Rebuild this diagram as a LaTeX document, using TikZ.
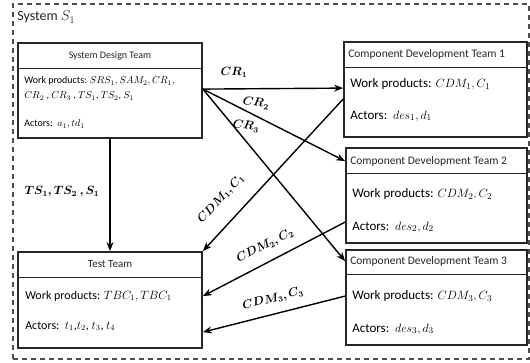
\documentclass[tikz,border=0pt]{standalone}
\usepackage{fontspec}
\setmainfont{Carlito}
\usepackage{bm}
\usetikzlibrary{arrows.meta,calc}

\definecolor{ink}{HTML}{262626}
\definecolor{frameink}{HTML}{4d4d4d}

\tikzset{
  frame/.style={draw=frameink, line width=1.8pt, dash pattern=on 5pt off 4pt, rectangle, inner sep=0pt},
  teambox/.style={draw=ink, line width=1.8pt, rectangle, inner sep=0pt, fill=white},
  divider/.style={draw=ink, line width=1.2pt},
  boxtitle/.style={text=ink, inner sep=0pt, font=\fontsize{10}{12}\selectfont},
  boxtext/.style={text=black, inner sep=0pt, anchor=west},
  flow/.style={draw=black, line width=1.4pt, -{Stealth[length=9pt,width=7pt]}},
  flowlabel/.style={text=black, inner sep=0pt, font=\fontsize{12}{14}\selectfont},
}

\begin{document}
\begin{tikzpicture}[x=1pt,y=-1pt]
\useasboundingbox (0,0) rectangle (530,362);
\fill[white] (0,0) rectangle (530,362);

% system boundary
\node[frame, minimum width=516pt, minimum height=355pt] (sys) at (271,181.5) {};
\node[anchor=west, inner sep=0pt, text=ink, font=\fontsize{14}{16}\selectfont]
  (systitle) at ($(sys.north west)+(5,14)$) {System $S_1$};

% team boxes
\node[teambox, minimum width=184pt, minimum height=95pt] (sdt) at (110,90.5) {};
\node[teambox, minimum width=183pt, minimum height=95pt] (cdt1) at (435.5,89.5) {};
\node[teambox, minimum width=181pt, minimum height=95pt] (cdt2) at (436.5,195.5) {};
\node[teambox, minimum width=181pt, minimum height=95pt] (cdt3) at (436.5,297.5) {};
\node[teambox, minimum width=184pt, minimum height=96pt] (test) at (110,300) {};

% header dividers
\draw[divider] ($(sdt.north west)+(0,26)$) -- ($(sdt.north east)+(0,26)$);
\draw[divider] ($(cdt1.north west)+(0,26)$) -- ($(cdt1.north east)+(0,26)$);
\draw[divider] ($(cdt2.north west)+(0,26)$) -- ($(cdt2.north east)+(0,26)$);
\draw[divider] ($(cdt3.north west)+(0,25)$) -- ($(cdt3.north east)+(0,25)$);
\draw[divider] ($(test.north west)+(0,26)$) -- ($(test.north east)+(0,26)$);

% System Design Team
\node[boxtitle] (sdt-t) at ($(sdt.north)+(0,14)$) {System Design Team};
\node[boxtext, font=\fontsize{10}{12}\selectfont] (sdt-w1) at ($(sdt.north west)+(7,39)$)
  {Work products: $SRS_1, SAM_2, CR_1,$};
\node[boxtext, font=\fontsize{10}{12}\selectfont] (sdt-w2) at ($(sdt.north west)+(7,54)$)
  {$CR_2$ , $CR_3$ , $TS_1$, $TS_2$, $S_1$};
\node[boxtext, font=\fontsize{10}{12}\selectfont] (sdt-a) at ($(sdt.north west)+(7,82)$)
  {Actors:\ \ $a_1, td_1$};

% Component Development Teams
\node[boxtitle, anchor=west, font=\fontsize{11.5}{13}\selectfont] (cdt1-t) at ($(cdt1.north west)+(5,13)$) {Component Development Team 1};
\node[boxtext, font=\fontsize{13}{15}\selectfont] (cdt1-w) at ($(cdt1.north west)+(7,43)$) {Work products: $CDM_1, C_1$};
\node[boxtext, font=\fontsize{13}{15}\selectfont] (cdt1-a) at ($(cdt1.north west)+(7,75)$) {Actors:\ \ $des_1, d_1$};

\node[boxtitle, anchor=west, font=\fontsize{11.5}{13}\selectfont] (cdt2-t) at ($(cdt2.north west)+(5,14)$) {Component Development Team 2};
\node[boxtext, font=\fontsize{13}{15}\selectfont] (cdt2-w) at ($(cdt2.north west)+(7,47)$) {Work products: $CDM_2, C_2$};
\node[boxtext, font=\fontsize{13}{15}\selectfont] (cdt2-a) at ($(cdt2.north west)+(7,80)$) {Actors:\ \ $des_2, d_2$};

\node[boxtitle, anchor=west, font=\fontsize{11.5}{13}\selectfont] (cdt3-t) at ($(cdt3.north west)+(5,12)$) {Component Development Team 3};
\node[boxtext, font=\fontsize{13}{15}\selectfont] (cdt3-w) at ($(cdt3.north west)+(7,47)$) {Work products: $CDM_3, C_3$};
\node[boxtext, font=\fontsize{13}{15}\selectfont] (cdt3-a) at ($(cdt3.north west)+(7,80)$) {Actors:\ \ $des_3, d_3$};

% Test Team
\node[boxtitle, font=\fontsize{11}{13}\selectfont] (test-t) at ($(test.north)+(0,13)$) {Test Team};
\node[boxtext, font=\fontsize{12}{14}\selectfont] (test-w) at ($(test.north west)+(8,45)$) {Work products: $TBC_1, TBC_1$};
\node[boxtext, font=\fontsize{12}{14}\selectfont] (test-a) at ($(test.north west)+(8,75)$) {Actors:\ \ $t_1$,$t_2$, $t_3$, $t_4$};

% connector ports
\coordinate (sdt-out) at ($(sdt.north east)+(0,47)$);
\coordinate (cdt1-in) at ($(cdt1.north west)+(0,47)$);
\coordinate (cdt2-in) at ($(cdt2.north west)+(0,14)$);
\coordinate (cdt3-in) at ($(cdt3.north west)+(0,12)$);
\coordinate (cdt1-out) at ($(cdt1.north west)+(0,58)$);
\coordinate (cdt2-out) at ($(cdt2.north west)+(0,75)$);
\coordinate (cdt3-out) at ($(cdt3.north west)+(0,47)$);
\coordinate (test-in1) at (test.north east);
\coordinate (test-in2) at ($(test.north east)+(0,45)$);
\coordinate (test-in3) at ($(test.north east)+(0,81)$);

% flows
\draw[flow] (sdt.south) -- (test.north);
\draw[flow] (sdt-out) -- (cdt1-in);
\draw[flow] (sdt-out) -- (cdt2-in);
\draw[flow] (sdt-out) -- (cdt3-in);
\draw[flow] (cdt1-out) -- (test-in1);
\draw[flow] (cdt2-out) -- (test-in2);
\draw[flow] (cdt3-out) -- (test-in3);

% flow labels
\node[flowlabel] (l-ts) at (62,192) {$\bm{TS_1, TS_2\ , S_1}$};
\node[flowlabel] (l-cr1) at (234,72) {$\bm{CR_1}$};
\node[flowlabel, rotate=-8] (l-cr2) at (256,103) {$\bm{CR_2}$};
\node[flowlabel, rotate=-8] (l-cr3) at (246,126) {$\bm{CR_3}$};
\node[flowlabel, rotate=47] (l-cdm1) at (221,199) {$\bm{CDM_1, C_1}$};
\node[flowlabel, rotate=27] (l-cdm2) at (265,246) {$\bm{CDM_2, C_2}$};
\node[flowlabel, rotate=14] (l-cdm3) at (273,299) {$\bm{CDM_3, C_3}$};
\end{tikzpicture}
\end{document}
